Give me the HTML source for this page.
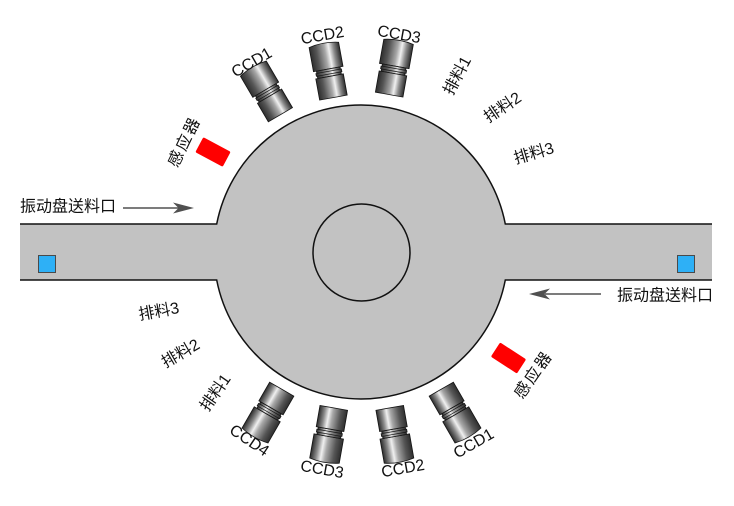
<!DOCTYPE html>
<html>
<head>
<meta charset="utf-8">
<style>
  html, body { margin: 0; padding: 0; background: #ffffff; }
  body { width: 734px; height: 506px; overflow: hidden; }
  svg { display: block; }
  .cjk { font-family: "Liberation Sans", "Noto Sans CJK SC", sans-serif; font-size: 16px; fill: #111; }
  .lat { font-family: "Liberation Sans", sans-serif; font-size: 16px; fill: #111; }
</style>
</head>
<body>
<svg width="734" height="506" viewBox="0 0 734 506" xmlns="http://www.w3.org/2000/svg">
  <defs>
    <linearGradient id="metal" x1="0" y1="0" x2="1" y2="0">
      <stop offset="0" stop-color="#2e2e2e"/>
      <stop offset="0.22" stop-color="#555555"/>
      <stop offset="0.5" stop-color="#a8a8a8"/>
      <stop offset="0.64" stop-color="#f0f0f0"/>
      <stop offset="0.8" stop-color="#8a8a8a"/>
      <stop offset="1" stop-color="#2a2a2a"/>
    </linearGradient>
    <g id="cam">
      <path d="M -15,-26 Q 0,-29.5 15,-26 L 15,-1.5 L -15,-1.5 Z" fill="url(#metal)" stroke="#151515" stroke-width="0.8"/>
      <rect x="-12" y="-1.5" width="24" height="7.5" fill="url(#metal)" stroke="#151515" stroke-width="0.8"/>
      <rect x="-13" y="0.8" width="26" height="2.8" fill="url(#metal)" stroke="#151515" stroke-width="0.7"/>
      <rect x="-14" y="6" width="28" height="21.5" fill="url(#metal)" stroke="#151515" stroke-width="0.8"/>
    </g>
  </defs>

  <!-- track + turntable fill -->
  <rect x="20" y="224" width="200" height="56" fill="#c2c2c2"/>
  <rect x="500" y="224" width="212" height="56" fill="#c2c2c2"/>
  <circle cx="361" cy="252" r="147" fill="#c2c2c2"/>
  <!-- outline -->
  <path d="M 20,224 L 216.7,224 A 147 147 0 0 1 505.3,224 L 712,224 M 712,280 L 505.3,280 A 147 147 0 0 1 216.7,280 L 20,280"
        fill="none" stroke="#111" stroke-width="1.5"/>
  <!-- inner circle -->
  <circle cx="361.5" cy="252.5" r="48.5" fill="none" stroke="#111" stroke-width="1.5"/>

  <!-- blue squares -->
  <rect x="38.5" y="255.5" width="17" height="17" fill="#2eb0f6" stroke="#4a4a4a" stroke-width="1"/>
  <rect x="677.5" y="255.5" width="17" height="17" fill="#2eb0f6" stroke="#4a4a4a" stroke-width="1"/>

  <!-- arrows -->
  <line x1="123" y1="208" x2="180" y2="208" stroke="#505050" stroke-width="1.6"/>
  <polygon points="194,208 173,202.5 178.5,208 173,213.5" fill="#505050"/>
  <line x1="545" y1="294" x2="601" y2="294" stroke="#505050" stroke-width="1.6"/>
  <polygon points="529,294 550,288.5 544.5,294 550,299.5" fill="#505050"/>

  <!-- feed labels -->
  <text class="cjk" x="20" y="207" dominant-baseline="central">振动盘送料口</text>
  <text class="cjk" x="617" y="296" dominant-baseline="central">振动盘送料口</text>

  <!-- red sensors -->
  <rect x="-15.5" y="-8.5" width="31" height="17" rx="1.5" fill="#ff0000" transform="translate(213,152) rotate(28)"/>
  <rect x="-15.5" y="-8.5" width="31" height="17" rx="1.5" fill="#ff0000" transform="translate(508.5,358) rotate(33)"/>
  <text class="cjk" text-anchor="middle" dominant-baseline="central" letter-spacing="2" transform="translate(185,142) rotate(-64)">感应器</text>
  <text class="cjk" text-anchor="middle" dominant-baseline="central" letter-spacing="2" transform="translate(534,375) rotate(-55)">感应器</text>

  <!-- discharge labels -->
  <text class="cjk" text-anchor="middle" dominant-baseline="central" transform="translate(458,76) rotate(-62)">排料1</text>
  <text class="cjk" text-anchor="middle" dominant-baseline="central" transform="translate(503,108) rotate(-34)">排料2</text>
  <text class="cjk" text-anchor="middle" dominant-baseline="central" transform="translate(534,154) rotate(-16)">排料3</text>
  <text class="cjk" text-anchor="middle" dominant-baseline="central" transform="translate(159,312) rotate(-10)">排料3</text>
  <text class="cjk" text-anchor="middle" dominant-baseline="central" transform="translate(181,354) rotate(-30)">排料2</text>
  <text class="cjk" text-anchor="middle" dominant-baseline="central" transform="translate(216,393) rotate(-55)">排料1</text>

  <!-- cameras top -->
  <use href="#cam" transform="translate(266.5,91) rotate(-30.4)"/>
  <use href="#cam" transform="translate(328.5,70.5) rotate(-10.3)"/>
  <use href="#cam" transform="translate(394,67.5) rotate(10.1)"/>
  <!-- cameras bottom -->
  <use href="#cam" transform="translate(268,413) rotate(-150)"/>
  <use href="#cam" transform="translate(329,435) rotate(-170)"/>
  <use href="#cam" transform="translate(394.5,435) rotate(170)"/>
  <use href="#cam" transform="translate(455,413) rotate(150)"/>

  <!-- CCD labels -->
  <text class="lat" text-anchor="middle" dominant-baseline="central" transform="translate(252,63) rotate(-30)">CCD1</text>
  <text class="lat" text-anchor="middle" dominant-baseline="central" transform="translate(322.5,36) rotate(-10)">CCD2</text>
  <text class="lat" text-anchor="middle" dominant-baseline="central" transform="translate(399,35) rotate(10)">CCD3</text>
  <text class="lat" text-anchor="middle" dominant-baseline="central" transform="translate(249,441) rotate(34)">CCD4</text>
  <text class="lat" text-anchor="middle" dominant-baseline="central" transform="translate(322,470) rotate(10)">CCD3</text>
  <text class="lat" text-anchor="middle" dominant-baseline="central" transform="translate(403,469) rotate(-10)">CCD2</text>
  <text class="lat" text-anchor="middle" dominant-baseline="central" transform="translate(474,444) rotate(-30)">CCD1</text>
</svg>
</body>
</html>
